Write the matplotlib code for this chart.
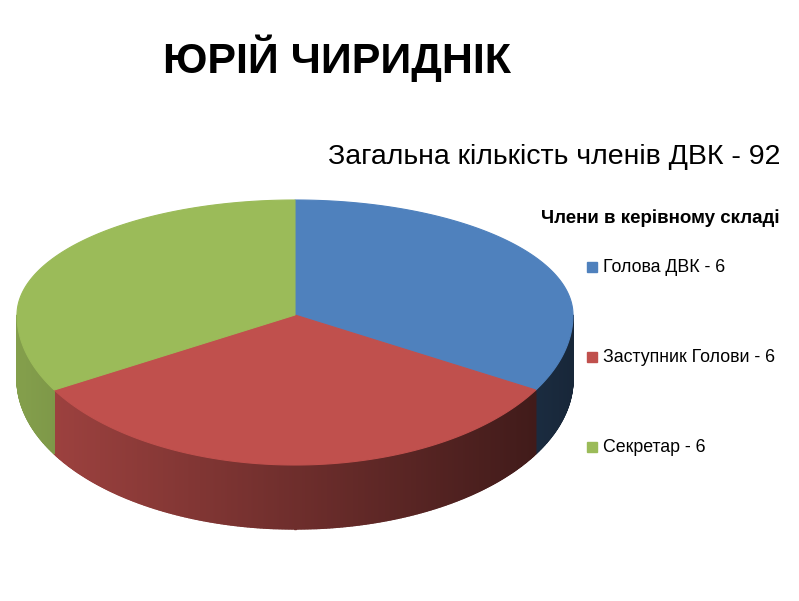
import numpy as np
import matplotlib
matplotlib.use("Agg")
import matplotlib.pyplot as plt
from matplotlib.colors import to_rgb

title = "ЮРІЙ ЧИРИДНІК"
subtitle = "Загальна кількість членів ДВК - 92"
legend_title = "Члени в керівному складі"
categories = ["Голова ДВК", "Заступник Голови", "Секретар"]
values = [6, 6, 6]
colors = ["#4F81BD", "#C0504D", "#9BBB59"]

W, H = 799, 601
fig = plt.figure(figsize=(W/100, H/100), dpi=100)
ax = fig.add_axes([0, 0, 1, 1])
ax.set_xlim(0, W); ax.set_ylim(H, 0); ax.axis("off")

cx, cy, rx, ry_up, ry_dn, depth = 295, 315, 278, 115, 150, 64

def pt(a, dz=0):
    s = np.sin(a)
    ry = ry_up if s > 0 else ry_dn
    return cx + rx*np.cos(a), cy - ry*s + dz

fr = np.array(values, float) / sum(values)
starts = np.pi/2 - 2*np.pi*np.concatenate([[0], np.cumsum(fr)[:-1]])
ends = starts - 2*np.pi*fr

# sides (front half only)
for s, e, c in zip(starts, ends, colors):
    base = np.array(to_rgb(c))
    angs = np.linspace(s, e, 400)
    for a0, a1 in zip(angs[:-1], angs[1:]):
        am = (a0 + a1) / 2
        if np.sin(am) >= 0:
            continue
        x0, y0 = pt(a0); x1, y1 = pt(a1)
        t = (np.cos(am) + 1) / 2  # 0 left, 1 right
        f = 0.85 - 0.55*t
        col = np.clip(base*f, 0, 1)
        ax.fill([x0, x1, x1, x0], [y0, y1, y1+depth, y0+depth], color=col, lw=1.0, ec=col)

# top faces
for s, e, c in zip(starts, ends, colors):
    angs = np.linspace(s, e, 200)
    xs = [cx] + [pt(a)[0] for a in angs]
    ys = [cy] + [pt(a)[1] for a in angs]
    ax.fill(xs, ys, color=c, lw=0.8, ec=c)

fam = ["Liberation Sans", "DejaVu Sans"]
ax.text(337, 58, title, fontsize=31, fontweight="bold", ha="center", va="center", family=fam)
ax.text(780, 157, subtitle, fontsize=20.5, ha="right", va="center", family=fam)
ax.text(780, 218, legend_title, fontsize=13.5, fontweight="bold", ha="right", va="center", family=fam)
for i, (cat, v, c) in enumerate(zip(categories, values, colors)):
    y = 267 + i*90
    ax.add_patch(plt.Rectangle((587, y-5), 10, 10, color=c))
    ax.text(603, y, f"{cat} - {v}", fontsize=12.8, ha="left", va="center", family=fam)

fig.savefig("out.png", dpi=100)
